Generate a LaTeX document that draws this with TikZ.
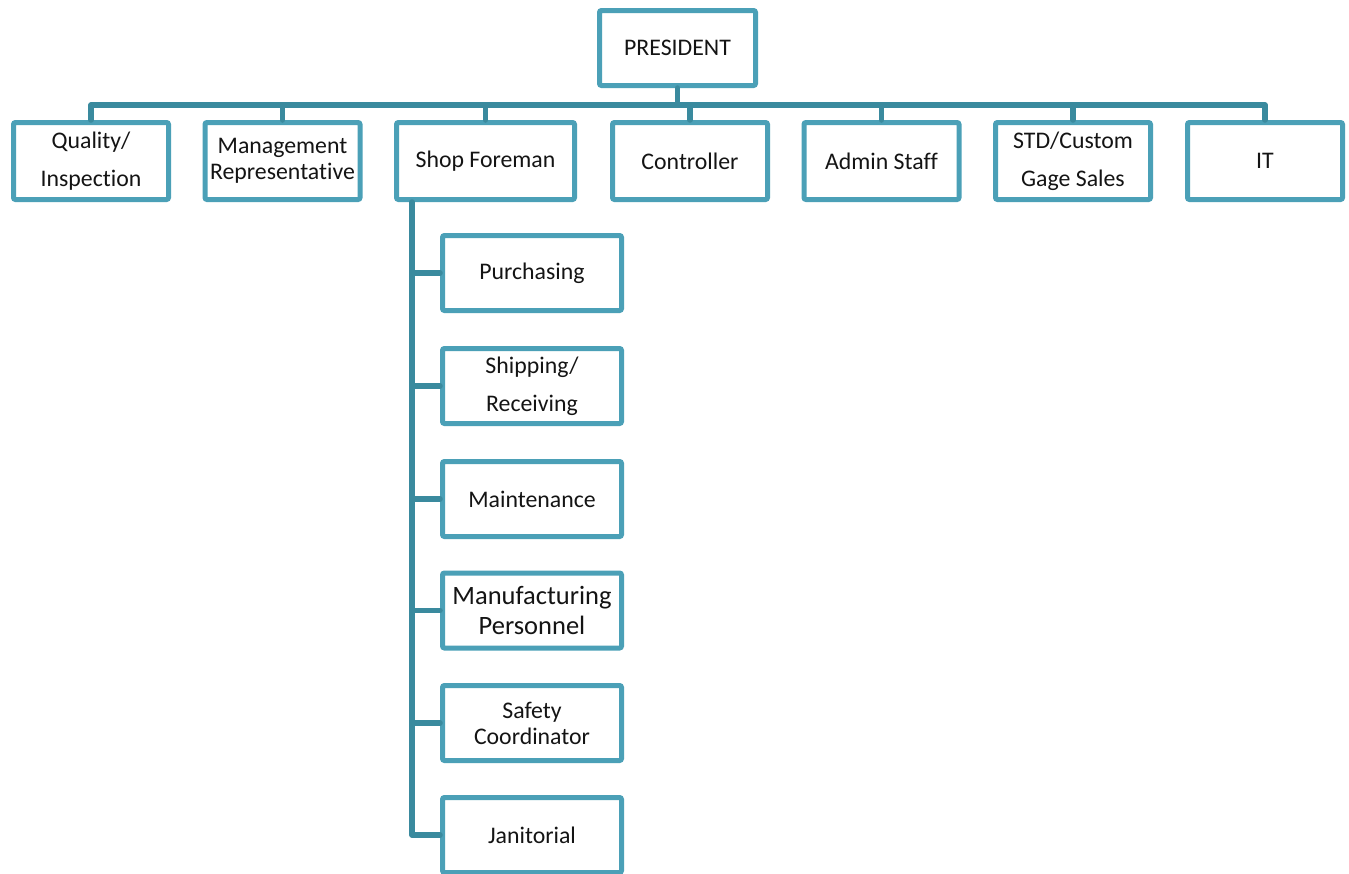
\documentclass[tikz,border=0pt]{standalone}
\usepackage{fontspec}
\setmainfont{Carlito}[Ligatures=CommonOff]
\definecolor{boxc}{RGB}{75,160,183}
\definecolor{linec}{RGB}{58,138,158}
\definecolor{txt}{RGB}{20,20,20}
\begin{document}
\begin{tikzpicture}[x=1pt,y=-1pt,
  box/.style={draw=boxc, line width=5pt, rounded corners=2pt, fill=white,
    minimum width=155pt, minimum height=77pt, align=center, inner sep=0pt,
    text=txt, font=\fontsize{23.8}{38}\selectfont},
  subbox/.style={box, minimum width=179pt, minimum height=75pt},
  conn/.style={draw=linec, line width=5.5pt, line join=round, line cap=round}]
\clip (0,0) rectangle (1349,873);
\fill[white] (0,0) rectangle (1349,873);
\coordinate (bus) at (677.5,105);
\coordinate (spine) at (412,202);
% nodes
\node[box, minimum width=156pt, minimum height=75pt] (pres) at (677.5,48) {PRESIDENT};
\node[box] (q)  at (91,161)   {Quality/\\Inspection};
\node[box, font=\fontsize{23.8}{26}\selectfont] (mr) at (282.5,161) {Management\\Representative};
\node[box, minimum width=178pt] (sf) at (485.5,161) {Shop Foreman};
\node[box] (ct) at (690,161)  {Controller};
\node[box] (ad) at (881.5,161) {Admin Staff};
\node[box] (sc) at (1073,161) {STD/Custom\\Gage Sales};
\node[box] (it) at (1265,161) {IT};
\node[subbox] (pu) at (532,273) {Purchasing};
\node[subbox] (sh) at (532,386) {Shipping/\\Receiving};
\node[subbox] (ma) at (532,499) {Maintenance};
\node[subbox, font=\fontsize{26.5}{30}\selectfont] (mp) at (532,610.5) {Manufacturing\\Personnel};
\node[subbox, font=\fontsize{23.8}{26}\selectfont] (sa) at (532,723) {Safety\\Coordinator};
\node[subbox] (ja) at (532,835) {Janitorial};
% connectors
\draw[conn] (pres.south) -- (bus);
\draw[conn] (q.north) |- (bus) -| (it.north);
\foreach \n in {mr,sf,ct,ad,sc}{
  \draw[conn] (\n.north) -- (\n.north |- bus);
}
\draw[conn] (sf.south -| spine) |- (ja.west);
\foreach \n in {pu,sh,ma,mp,sa}{
  \draw[conn] (\n.west) -- (\n.west -| spine);
}
\end{tikzpicture}
\end{document}
